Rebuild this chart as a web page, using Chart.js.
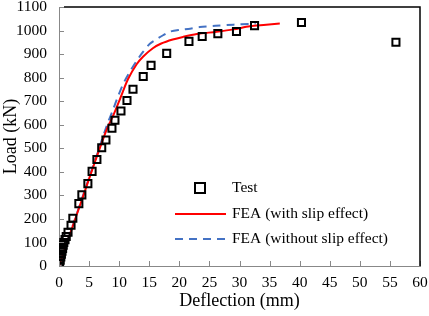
<!DOCTYPE html>
<html>
<head>
<meta charset="utf-8">
<script src="https://cdn.jsdelivr.net/npm/chart.js@4.4.0/dist/chart.umd.min.js"></script>
<style>
  html, body { margin: 0; padding: 0; background: #fff; }
  #box { width: 429px; height: 316px; }
</style>
</head>
<body>
<div id="box"><canvas id="grafico" width="429" height="316"></canvas></div>
<script>
// dados (deflexao mm, carga kN)
var testeX = [0, 0.1, 0.2, 0.3, 0.4, 0.5, 0.6, 0.7, 0.8, 1.0, 1.2, 1.5, 2.0, 2.3, 3.3, 3.8, 4.8, 5.5, 6.3, 7.1, 7.8, 8.8, 9.3, 10.3, 11.3, 12.3, 14.0, 15.3, 17.9, 21.6, 23.8, 26.4, 29.5, 32.5, 40.3, 56.0];
var testeY = [0, 12, 25, 38, 50, 63, 75, 88, 100, 112, 125, 143, 173, 203, 265, 302, 350, 402, 452, 502, 535, 585, 619, 658, 703, 751, 805, 852, 903, 954, 975, 987, 996, 1021, 1034, 950];

var comSlipX = [0, 2, 4, 6, 8, 9, 10, 10.6, 11.5, 12.9, 14, 15.6, 17, 18.9, 20.6, 22.9, 26.2, 29, 31.7, 34, 36.7];
var comSlipY = [0, 148, 296, 444, 585, 638, 700, 740, 795, 857, 890, 925, 945, 962, 973, 985, 995, 1005, 1018, 1024, 1030];

var semSlipX = [0, 2, 4, 6, 8, 9, 9.8, 10.8, 11.8, 13, 14, 15.1, 16.2, 17.3, 18.4, 20, 21.8, 23.4, 26, 29, 31.7, 32.7];
var semSlipY = [0, 150, 300, 450, 600, 665, 720, 780, 826, 875, 910, 944, 963, 980, 995, 1003, 1008, 1015, 1020, 1025, 1028, 1030];

var legendas = ['Test', 'FEA (with slip effect)', 'FEA (without slip effect)'];

function juntar(xs, ys) {
    var pts = [];
    for (var i = 0; i < xs.length; i++) pts.push({x: xs[i], y: ys[i]});
    return pts;
}

var fonte = '"Liberation Serif", "Times New Roman", serif';

// ticks para dentro, bordas de cima/direita e legenda
var extras = {
    id: 'extras',
    afterDraw: function (chart) {
        var ctx = chart.ctx;
        var a = chart.chartArea;
        var sx = chart.scales.x, sy = chart.scales.y;
        ctx.save();
        ctx.strokeStyle = '#888';
        ctx.lineWidth = 1;
        sx.ticks.forEach(function (t) {
            var px = Math.round(sx.getPixelForValue(t.value)) + 0.5;
            ctx.beginPath(); ctx.moveTo(px, a.bottom); ctx.lineTo(px, a.bottom - 5); ctx.stroke();
        });
        sy.ticks.forEach(function (t) {
            var py = Math.round(sy.getPixelForValue(t.value)) + 0.5;
            ctx.beginPath(); ctx.moveTo(a.left, py); ctx.lineTo(a.left + 5, py); ctx.stroke();
        });
        ctx.strokeStyle = '#000';
        ctx.lineWidth = 1.5;
        ctx.beginPath();
        ctx.moveTo(a.left + 5, a.top);
        ctx.lineTo(a.right, a.top);
        ctx.lineTo(a.right, a.bottom);
        ctx.stroke();

        // legenda
        var lx = a.left + 116, ty = a.top + 181;
        ctx.font = '15.5px ' + fonte;
        ctx.fillStyle = '#000';
        ctx.textBaseline = 'middle';
        ctx.lineWidth = 2;
        ctx.strokeStyle = '#000';
        ctx.strokeRect(a.left + 136, ty - 5, 10, 10);
        ctx.fillText(legendas[0], a.left + 173, ty);
        ctx.strokeStyle = '#ff0000';
        ctx.beginPath(); ctx.moveTo(lx, ty + 26); ctx.lineTo(lx + 51, ty + 26); ctx.stroke();
        ctx.fillText(legendas[1], a.left + 173, ty + 26);
        ctx.strokeStyle = '#4472c4';
        ctx.setLineDash([8, 6]);
        ctx.beginPath(); ctx.moveTo(lx, ty + 51); ctx.lineTo(lx + 51, ty + 51); ctx.stroke();
        ctx.setLineDash([]);
        ctx.fillText(legendas[2], a.left + 173, ty + 51);
        ctx.restore();
    }
};

var config = {
    type: 'scatter',
    data: {
        datasets: [{
            label: legendas[0],
            data: juntar(testeX, testeY),
            pointStyle: 'rect',
            pointRadius: 5,
            pointBorderWidth: 2,
            borderColor: '#000',
            backgroundColor: 'rgba(0,0,0,0)',
            showLine: false,
            order: 0
        }, {
            label: legendas[1],
            data: juntar(comSlipX, comSlipY),
            showLine: true,
            borderColor: '#ff0000',
            borderWidth: 2,
            pointRadius: 0,
            tension: 0.3,
            order: 1
        }, {
            label: legendas[2],
            data: juntar(semSlipX, semSlipY),
            showLine: true,
            borderColor: '#4472c4',
            borderWidth: 2,
            borderDash: [8, 6],
            pointRadius: 0,
            tension: 0.3,
            order: 2
        }]
    },
    options: {
        responsive: false,
        animation: false,
        layout: { padding: { left: 0, right: 9, top: 5, bottom: 0 } },
        plugins: { legend: { display: false }, tooltip: { enabled: false } },
        scales: {
            x: {
                type: 'linear', min: 0, max: 60,
                ticks: { stepSize: 5, color: '#000', font: { family: fonte, size: 15.5 }, padding: 8, maxRotation: 0,
                         callback: function (v) { return String(v); } },
                grid: { display: false, drawTicks: false },
                border: { color: '#888', width: 1 },
                title: { display: true, text: 'Deflection (mm)', color: '#000', font: { family: fonte, size: 18 }, padding: { top: 2 } },
                afterFit: function (s) { s.height = 50; s.paddingLeft = 0; s.paddingRight = 0; }
            },
            y: {
                type: 'linear', min: 0, max: 1100,
                ticks: { stepSize: 100, color: '#000', font: { family: fonte, size: 15.5 }, padding: 12,
                         callback: function (v) { return String(v); } },
                grid: { display: false, drawTicks: false },
                border: { color: '#888', width: 1 },
                title: { display: true, text: 'Load (kN)', color: '#000', font: { family: fonte, size: 18 }, padding: 0 },
                afterFit: function (s) { s.width = 59; s.paddingTop = 0; s.paddingBottom = 0; }
            }
        }
    },
    plugins: [extras]
};

var ctx = document.getElementById('grafico').getContext('2d');
window.myChart = new Chart(ctx, config);
</script>
</body>
</html>
